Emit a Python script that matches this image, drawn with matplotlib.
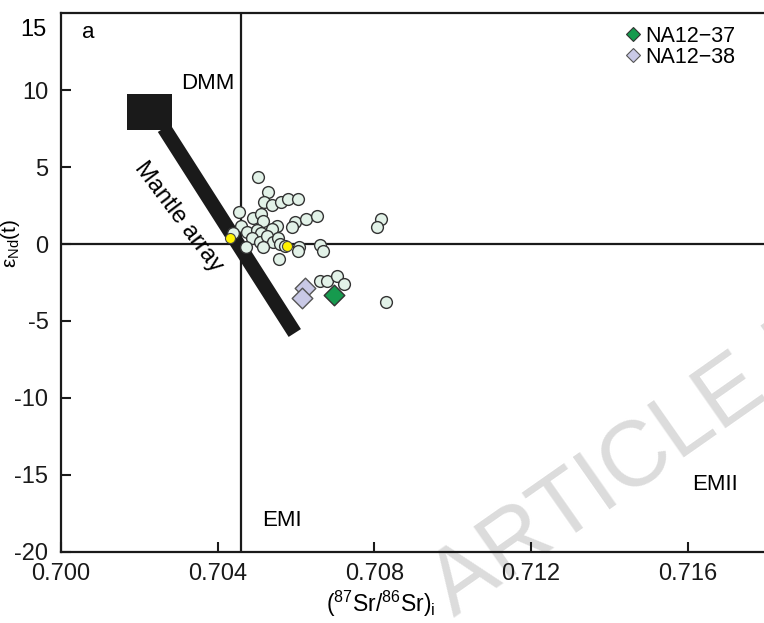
import matplotlib
matplotlib.use("Agg")
import matplotlib.pyplot as plt
from matplotlib.patches import Rectangle
from matplotlib.lines import Line2D
from matplotlib import rcParams

rcParams['font.family'] = ['Liberation Sans', 'DejaVu Sans']
rcParams['mathtext.fontset'] = 'custom'
rcParams['mathtext.rm'] = 'Liberation Sans'
rcParams['mathtext.it'] = 'Liberation Sans'
rcParams['lines.solid_capstyle'] = 'butt'

# literature samples (87Sr/86Sr)i vs eNd(t)
lit_sr = [0.70504, 0.70528, 0.70519, 0.70538, 0.70563, 0.70580, 0.70606, 0.70454,
          0.70491, 0.70512, 0.70516, 0.70551, 0.70597, 0.70625, 0.70653, 0.70589,
          0.70459, 0.70476, 0.70500, 0.70512, 0.70538, 0.70440, 0.70487, 0.70508,
          0.70525, 0.70542, 0.70555, 0.70559, 0.70572, 0.70472, 0.70516, 0.70608,
          0.70606, 0.70661, 0.70670, 0.70557, 0.70816, 0.70806, 0.70661, 0.70680,
          0.70704, 0.70722, 0.70829]
lit_nd = [4.36, 3.39, 2.70, 2.53, 2.70, 2.92, 2.92, 2.11,
          1.69, 1.94, 1.51, 1.19, 1.40, 1.62, 1.83, 1.12,
          1.19, 0.80, 0.91, 0.71, 0.97, 0.69, 0.36, 0.15,
          0.54, 0.10, 0.39, 0.00, -0.11, -0.22, -0.22, -0.17,
          -0.48, -0.05, -0.43, -0.97, 1.62, 1.12, -2.42, -2.42,
          -2.05, -2.59, -3.78]

# highlighted reference samples
ref_sr = [0.70431, 0.70576]
ref_nd = [0.36, -0.13]

na37_sr = [0.70698]
na37_nd = [-3.29]
na38_sr = [0.70623, 0.70616]
na38_nd = [-2.88, -3.50]

# bulk silicate earth reference lines
bse_sr = 0.70459
chur_nd = 0.0

# mantle array and DMM box
mantle_sr = [0.70263, 0.70597]
mantle_nd = [7.53, -5.78]
dmm_sr = [0.70168, 0.70283]
dmm_nd = [7.40, 9.74]

fig = plt.figure(figsize=(7.64, 6.23), dpi=100)
ax = fig.add_axes([0.0798, 0.114, 0.9202, 0.8651])
ax.set_facecolor('none')

ax.axvline(bse_sr, color='#1a1a1a', lw=1.6, zorder=2)
ax.axhline(chur_nd, color='#1a1a1a', lw=1.6, zorder=2)

ax.plot(mantle_sr, mantle_nd, color='#1a1a1a', lw=10.5, zorder=3)
ax.add_patch(Rectangle((dmm_sr[0], dmm_nd[0]), dmm_sr[1] - dmm_sr[0], dmm_nd[1] - dmm_nd[0],
                       facecolor='#1a1a1a', edgecolor='none', zorder=3))

ax.scatter(lit_sr, lit_nd, s=72, facecolor='#e2f2e8', edgecolor='#333333', linewidth=1.0, zorder=4)
ax.scatter(ref_sr, ref_nd, s=52, facecolor='#fff200', edgecolor='#444444', linewidth=0.8, zorder=5)
ax.scatter(na38_sr, na38_nd, s=110, marker='D', facecolor='#c9c9e6', edgecolor='#555555',
           linewidth=1.0, zorder=5)
ax.scatter(na37_sr, na37_nd, s=110, marker='D', facecolor='#169a4e', edgecolor='#333333',
           linewidth=1.0, zorder=6)

handles = [Line2D([], [], ls='none', marker='D', ms=7, mfc='#169a4e', mec='#333333', mew=0.8),
           Line2D([], [], ls='none', marker='D', ms=7, mfc='#c9c9e6', mec='#555555', mew=0.8)]
ax.legend(handles, ['NA12\u221237', 'NA12\u221238'], loc='upper right', bbox_to_anchor=(0.978, 1.0),
          frameon=False, fontsize=15.5, handletextpad=0.1, labelspacing=0.0, handlelength=1.0,
          borderaxespad=0.2)

ax.text(0.70069, 13.76, 'a', fontsize=16, ha='center', va='center')
ax.text(0.70375, 10.45, 'DMM', fontsize=16, ha='center', va='center')
ax.text(0.70564, -17.93, 'EMI', fontsize=16, ha='center', va='center')
ax.text(0.71669, -15.6, 'EMII', fontsize=16, ha='center', va='center')
ax.text(0.70300, 1.75, 'Mantle array', fontsize=17, ha='center', va='center',
        rotation=-53, rotation_mode='anchor')

ax.set_xlim(0.700, 0.71795)
ax.set_ylim(-20, 15)
ax.set_xticks([0.700, 0.704, 0.708, 0.712, 0.716])
ax.set_xticklabels(['0.700', '0.704', '0.708', '0.712', '0.716'])
ax.set_yticks([-20, -15, -10, -5, 0, 5, 10])
ax.set_yticklabels(['-20', '-15', '-10', '-5', '0', '5', '10'])
ax.text(-0.02, 0.968, '15', transform=ax.transAxes, fontsize=17, ha='right', va='center')

ax.tick_params(direction='in', length=7, width=1.5, labelsize=17, colors='#1a1a1a')
ax.tick_params(axis='x', pad=8)
ax.tick_params(axis='y', pad=9)
for side in ['left', 'top', 'bottom']:
    ax.spines[side].set_linewidth(1.6)
    ax.spines[side].set_color('#1a1a1a')
ax.spines['right'].set_visible(False)

ax.set_ylabel(r'$\mathrm{\varepsilon_{Nd}}$(t)', fontsize=15)
ax.yaxis.set_label_coords(-0.055, 0.573)
ax.set_xlabel(r'$(^{87}\mathrm{Sr}/^{86}\mathrm{Sr})_{\mathrm{i}}$', fontsize=16.5)
ax.xaxis.set_label_coords(0.455, -0.068)

# page watermark
fig.text(0.595, 0.008, 'ARTICLE IN PRESS', fontsize=66, color='#dcdcdc', rotation=35,
         rotation_mode='anchor', ha='left', va='baseline', zorder=-1)

fig.savefig('out.png', dpi=100)
